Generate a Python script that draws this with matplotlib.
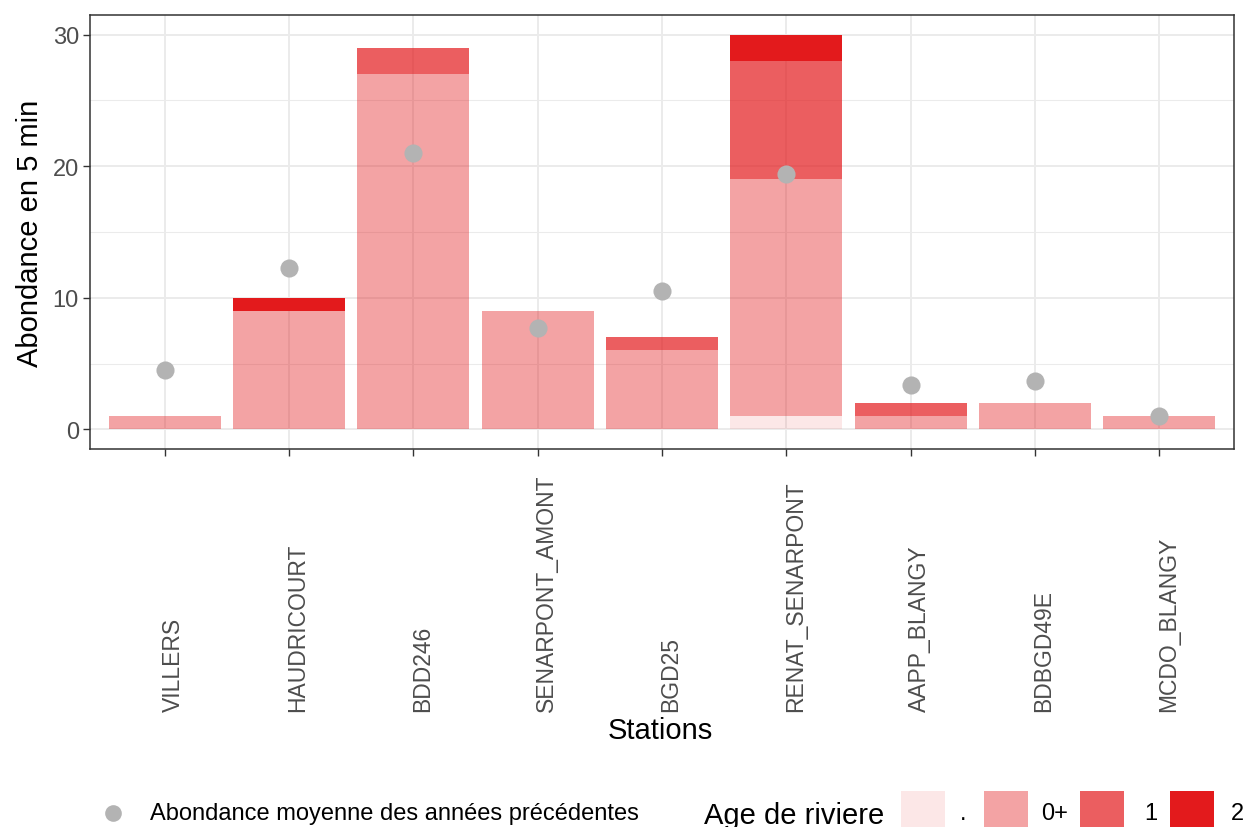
import matplotlib
matplotlib.use('Agg')
import matplotlib.pyplot as plt
import matplotlib.transforms as mtransforms
from matplotlib.patches import Rectangle
from matplotlib.lines import Line2D
import numpy as np

plt.rcParams['font.family'] = ['Liberation Sans', 'DejaVu Sans']

stations = ['VILLERS', 'HAUDRICOURT', 'BDD246', 'SENARPONT_AMONT', 'BGD25',
            'RENAT_SENARPONT', 'AAPP_BLANGY', 'BDBGD49E', 'MCDO_BLANGY']
age_classes = ['.', '0+', '1', '2']
count_dot = [0, 0, 0, 0, 0, 1, 0, 0, 0]
count_0p = [1, 9, 27, 9, 6, 18, 1, 2, 1]
count_1 = [0, 0, 2, 0, 1, 9, 1, 0, 0]
count_2 = [0, 1, 0, 0, 0, 2, 0, 0, 0]
mean_prev = [4.5, 12.3, 21.0, 7.7, 10.5, 19.4, 3.4, 3.7, 1.0]
yticks = [0, 10, 20, 30]

series = [count_dot, count_0p, count_1, count_2]
base = '#E31A1C'
alphas = [0.1, 0.4, 0.7, 1.0]

W, H = 1250, 828
fig = plt.figure(figsize=(W / 100, H / 100), dpi=100)
ax = fig.add_axes([90 / W, (H - 450) / H, 1144 / W, 434 / H])

x = np.arange(len(stations))
bottom = np.zeros(len(stations))
for vals, a in zip(series, alphas):
    v = np.array(vals, dtype=float)
    ax.bar(x, v, bottom=bottom, width=0.9, color=base, alpha=a, linewidth=0, zorder=2)
    bottom += v

ax.scatter(x, mean_prev, s=170, color='#B3B3B3', zorder=3, linewidths=0)

ax.set_xlim(-0.6, len(stations) - 0.4)
ax.set_ylim(-1.5, 31.5)
ax.set_yticks(yticks)
ax.set_yticks([5, 15, 25], minor=True)
ax.set_xticks(x)
ax.set_xticklabels([])
ax.grid(which='major', color='#EBEBEB', linewidth=1.4, zorder=0)
ax.grid(which='minor', axis='y', color='#EBEBEB', linewidth=0.75, zorder=0)
ax.set_axisbelow(True)
ax.tick_params(which='minor', length=0)
ax.tick_params(which='major', length=5, width=1.0, color='#333333',
               labelsize=17, labelcolor='#4D4D4D', pad=3)
for s in ax.spines.values():
    s.set_color('#333333')
    s.set_linewidth(1.1)

trans = mtransforms.offset_copy(ax.get_xaxis_transform(), fig=fig, x=9, y=0, units='dots')
ylab_pos = (450 - 712) / 434
for xi, name in zip(x, stations):
    ax.text(xi, ylab_pos, name, rotation=90, ha='center', va='bottom',
            fontsize=16.5, color='#4D4D4D', transform=trans)

ax.set_ylabel('Abondance en 5 min', fontsize=21, labelpad=6)
fig.text(660 / W, 1 - 731 / H, 'Stations', ha='center', va='center', fontsize=21)

# Legend (drawn manually)
yc = 1 - 814 / H
fig.add_artist(Line2D([113 / W], [yc], marker='o', markersize=12, color='#B3B3B3',
                      markeredgewidth=0, linestyle='none', transform=fig.transFigure))
fig.text(150 / W, yc, 'Abondance moyenne des années précédentes', ha='left', va='center',
         fontsize=17)
fig.text(704 / W, yc - 0.002, 'Age de riviere', ha='left', va='center', fontsize=21)
key_x = [901, 984, 1080, 1170]
lab_x = [960, 1041, 1144, 1231]
for kx, lx, a, lab in zip(key_x, lab_x, alphas, age_classes):
    fig.add_artist(Rectangle((kx / W, 1 - 828 / H), 44 / W, 36 / H, transform=fig.transFigure,
                             facecolor=base, alpha=a, linewidth=0))
    fig.text(lx / W, yc, lab, ha='left', va='center', fontsize=17)

fig.savefig('out.png', dpi=100)
